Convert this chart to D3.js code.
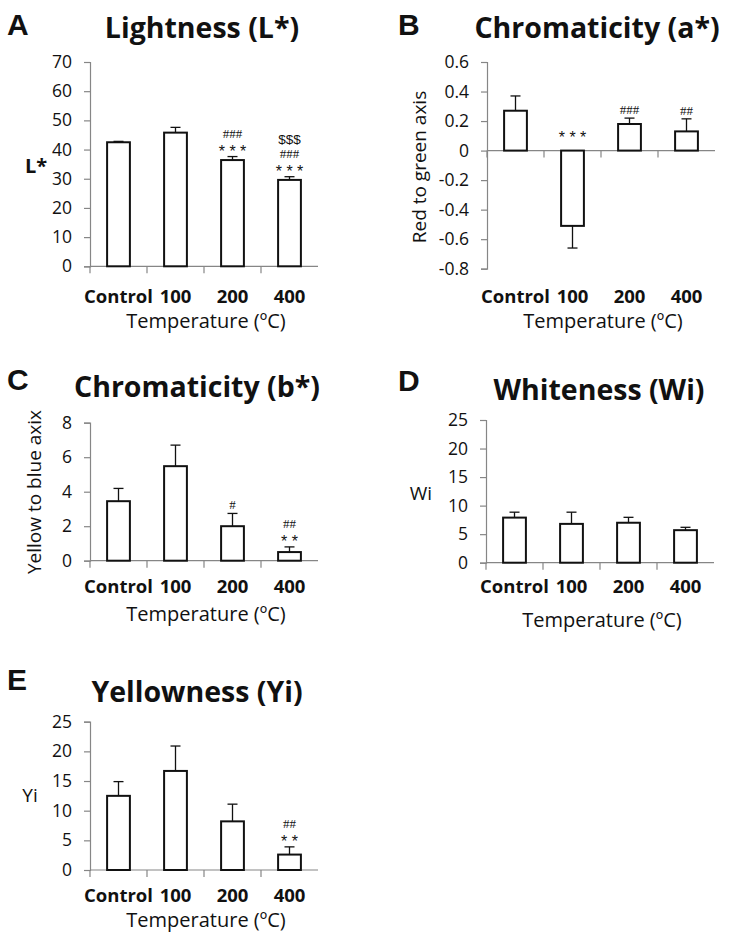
<!DOCTYPE html>
<html>
<head>
<meta charset="utf-8">
<script src="https://cdn.jsdelivr.net/npm/d3@7"></script>
<style>
  body { margin: 0; background: #fff; }
  text { fill: #111; }
</style>
</head>
<body>
<div id="chart"></div>
<script>
// Values (mean, SEM)
const categories = ['Control', '100', '200', '400'];

const lightnessMean = [42.5, 45.8, 36.4, 29.6];
const lightnessErr = [0.3, 1.8, 1.2, 1.1];
const lightnessTicks = [0, 10, 20, 30, 40, 50, 60, 70];
const lightnessMarks = [[], [], ['***', '###'], ['***', '###', '$$$']];

const aStarMean = [0.27, -0.51, 0.18, 0.13];
const aStarErr = [0.10, 0.15, 0.04, 0.085];
const aStarTicks = [-0.8, -0.6, -0.4, -0.2, 0, 0.2, 0.4, 0.6];
const aStarMarks = [[], ['***'], ['###'], ['##']];

const bStarMean = [3.45, 5.48, 2.0, 0.5];
const bStarErr = [0.74, 1.22, 0.74, 0.3];
const bStarTicks = [0, 2, 4, 6, 8];
const bStarMarks = [[], [], ['#'], ['**', '##']];

const whitenessMean = [7.9, 6.8, 7.0, 5.7];
const whitenessErr = [0.95, 2.05, 0.95, 0.5];
const whitenessTicks = [0, 5, 10, 15, 20, 25];
const whitenessMarks = [[], [], [], []];

const yellownessMean = [12.5, 16.7, 8.2, 2.6];
const yellownessErr = [2.4, 4.2, 2.9, 1.3];
const yellownessTicks = [0, 5, 10, 15, 20, 25];
const yellownessMarks = [[], [], [], ['**', '##']];

const xTitle = 'Temperature (ºC)';

// Panel placement on the page
const panels = [
  { letter: 'A', title: 'Lightness (L*)', yLabel: 'L*', yBold: true, rotate: false,
    mean: lightnessMean, err: lightnessErr, ticks: lightnessTicks, marks: lightnessMarks,
    x0: 90, top: 62, bottom: 266.3, letterY: 35, titleX: 202, titleY: 38,
    yLabelX: 36, yLabelY: 173, catY: 303, xTitleY: 328 },
  { letter: 'B', title: 'Chromaticity (a*)', yLabel: 'Red to green axis', rotate: true,
    mean: aStarMean, err: aStarErr, ticks: aStarTicks, marks: aStarMarks,
    x0: 487, top: 62, bottom: 268.7, letterY: 35, titleX: 597, titleY: 38,
    yLabelX: 426, yLabelY: 167, catY: 303, xTitleY: 328 },
  { letter: 'C', title: 'Chromaticity (b*)', yLabel: 'Yellow to blue axix', rotate: true,
    mean: bStarMean, err: bStarErr, ticks: bStarTicks, marks: bStarMarks,
    x0: 90, top: 422.7, bottom: 560.7, letterY: 390, titleX: 197, titleY: 397,
    yLabelX: 41, yLabelY: 492, catY: 593, xTitleY: 621 },
  { letter: 'D', title: 'Whiteness (Wi)', yLabel: 'Wi', rotate: false,
    mean: whitenessMean, err: whitenessErr, ticks: whitenessTicks, marks: whitenessMarks,
    x0: 486, top: 420, bottom: 562.7, letterY: 391, titleX: 599, titleY: 400,
    yLabelX: 421, yLabelY: 500, catY: 593, xTitleY: 627 },
  { letter: 'E', title: 'Yellowness (Yi)', yLabel: 'Yi', rotate: false,
    mean: yellownessMean, err: yellownessErr, ticks: yellownessTicks, marks: yellownessMarks,
    x0: 90, top: 721.7, bottom: 870, letterY: 690, titleX: 197, titleY: 702,
    yLabelX: 30, yLabelY: 802, catY: 902, xTitleY: 927 }
];

const plotWidth = 228;
const font = '"Open Sans", sans-serif';
const sans = '"Liberation Sans", Arial, sans-serif';

// glyph styles for the significance marks (shift = baseline below glyph centre)
const markStyle = {
  '*': { family: sans, size: 16, shift: 9, text: s => s.split('').join(' ') },
  '#': { family: '"Liberation Serif", serif', size: 13, shift: 5, text: s => s },
  '$': { family: sans, size: 13.5, shift: 5, text: s => s }
};

const svg = d3.select('#chart')
  .append('svg')
  .attr('width', 733)
  .attr('height', 935);

const drawPanel = (p) => {
  const g = svg.append('g');

  const x = d3.scaleBand()
    .domain(categories)
    .range([p.x0, p.x0 + plotWidth])
    .padding(0);

  const y = d3.scaleLinear()
    .domain(d3.extent(p.ticks))
    .range([p.bottom, p.top]);

  // Y axis
  const yAxis = g.append('g')
    .attr('transform', `translate(${p.x0},0)`)
    .call(d3.axisLeft(y)
      .tickValues(p.ticks)
      .tickSize(6)
      .tickPadding(12)
      .tickFormat(d => String(d)));
  yAxis.select('.domain').attr('stroke', '#868686').attr('stroke-width', 1.2);
  yAxis.selectAll('.tick line').attr('stroke', '#868686').attr('stroke-width', 1.2);
  yAxis.selectAll('.tick text')
    .attr('font-family', font)
    .attr('font-size', 17.5)
    .attr('fill', '#111');

  // Category axis along zero, ticks at band edges
  const zeroY = y(0);
  g.append('line')
    .attr('x1', p.x0).attr('x2', p.x0 + plotWidth)
    .attr('y1', zeroY).attr('y2', zeroY)
    .attr('stroke', '#868686').attr('stroke-width', 1.2);
  g.selectAll('.cat-tick')
    .data(categories)
    .join('line')
    .attr('x1', d => x(d)).attr('x2', d => x(d))
    .attr('y1', zeroY).attr('y2', zeroY + 7)
    .attr('stroke', '#868686').attr('stroke-width', 1.2);

  const barW = x.bandwidth() * 0.4;
  const cx = d => x(d) + x.bandwidth() / 2;

  // Bars
  g.selectAll('.bar')
    .data(categories)
    .join('rect')
    .attr('x', d => cx(d) - barW / 2)
    .attr('y', (d, i) => Math.min(y(p.mean[i]), zeroY))
    .attr('width', barW)
    .attr('height', (d, i) => Math.abs(y(p.mean[i]) - zeroY))
    .attr('fill', '#fff')
    .attr('stroke', '#111')
    .attr('stroke-width', 2);

  // Error bars, one-sided away from zero
  const tip = i => p.mean[i] >= 0 ? p.mean[i] + p.err[i] : p.mean[i] - p.err[i];
  g.selectAll('.err')
    .data(categories)
    .join('line')
    .attr('x1', d => cx(d)).attr('x2', d => cx(d))
    .attr('y1', (d, i) => y(p.mean[i]))
    .attr('y2', (d, i) => y(tip(i)))
    .attr('stroke', '#111').attr('stroke-width', 1.3);
  g.selectAll('.cap')
    .data(categories)
    .join('line')
    .attr('x1', d => cx(d) - 5).attr('x2', d => cx(d) + 5)
    .attr('y1', (d, i) => y(tip(i)))
    .attr('y2', (d, i) => y(tip(i)))
    .attr('stroke', '#111').attr('stroke-width', 1.3);

  // Significance marks stacked above each bar, one text per bar
  categories.forEach((c, i) => {
    if (!p.marks[i].length) return;
    const anchor = p.mean[i] >= 0 ? y(tip(i)) : zeroY - 8;
    const t = g.append('text')
      .attr('text-anchor', 'middle')
      .attr('fill', '#222');
    p.marks[i].forEach((m, k) => {
      const st = markStyle[m[0]];
      t.append('tspan')
        .attr('x', cx(c))
        .attr('y', anchor - 9 - k * 14.5 + st.shift)
        .attr('font-family', st.family)
        .attr('font-size', st.size)
        .text(st.text(m));
    });
  });

  // Category labels
  g.selectAll('.cat-label')
    .data(categories)
    .join('text')
    .attr('x', d => cx(d))
    .attr('y', p.catY)
    .attr('text-anchor', 'middle')
    .attr('font-family', font)
    .attr('font-weight', 700)
    .attr('font-size', 18.5)
    .text(d => d);

  g.append('text')
    .attr('x', p.x0 + plotWidth / 2 + 2)
    .attr('y', p.xTitleY)
    .attr('text-anchor', 'middle')
    .attr('font-family', font)
    .attr('font-size', 20)
    .text(xTitle);

  // Y label
  const yl = g.append('text')
    .attr('text-anchor', 'middle')
    .attr('font-family', font)
    .attr('font-weight', p.yBold ? 700 : 400)
    .attr('font-size', p.yBold ? 20 : 19)
    .text(p.yLabel);
  if (p.rotate) {
    yl.attr('transform', `translate(${p.yLabelX},${p.yLabelY}) rotate(-90)`);
  } else {
    yl.attr('x', p.yLabelX).attr('y', p.yLabelY);
  }

  // Title and panel letter
  g.append('text')
    .attr('x', p.titleX)
    .attr('y', p.titleY)
    .attr('text-anchor', 'middle')
    .attr('font-family', font)
    .attr('font-weight', 700)
    .attr('font-size', 28.5)
    .text(p.title);

  g.append('text')
    .attr('x', p.x0 < 200 ? 7 : 398)
    .attr('y', p.letterY)
    .attr('font-family', sans)
    .attr('font-weight', 700)
    .attr('font-size', 30)
    .text(p.letter);
};

panels.forEach(drawPanel);
</script>
</body>
</html>
